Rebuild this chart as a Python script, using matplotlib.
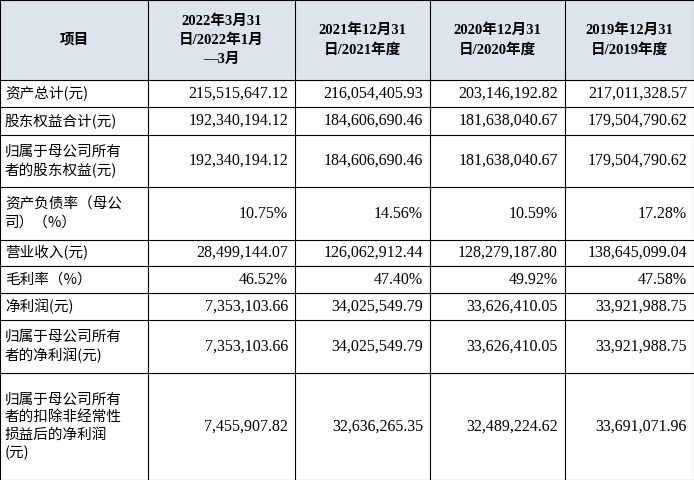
import matplotlib
matplotlib.use("Agg")
import matplotlib.pyplot as plt

headers = ["项目", "2022年3月31\n日/2022年1月\n—3月", "2021年12月31\n日/2021年度",
           "2020年12月31\n日/2020年度", "2019年12月31\n日/2019年度"]
row_labels = ["资产总计(元)", "股东权益合计(元)", "归属于母公司所有\n者的股东权益(元)",
              "资产负债率（母公\n司）（%）", "营业收入(元)", "毛利率（%）", "净利润(元)",
              "归属于母公司所有\n者的净利润(元)",
              "归属于母公司所有\n者的扣除非经常性\n损益后的净利润\n(元)"]
col_2022q1 = ["215,515,647.12", "192,340,194.12", "192,340,194.12", "10.75%", "28,499,144.07",
              "46.52%", "7,353,103.66", "7,353,103.66", "7,455,907.82"]
col_2021 = ["216,054,405.93", "184,606,690.46", "184,606,690.46", "14.56%", "126,062,912.44",
            "47.40%", "34,025,549.79", "34,025,549.79", "32,636,265.35"]
col_2020 = ["203,146,192.82", "181,638,040.67", "181,638,040.67", "10.59%", "128,279,187.80",
            "49.92%", "33,626,410.05", "33,626,410.05", "32,489,224.62"]
col_2019 = ["217,011,328.57", "179,504,790.62", "179,504,790.62", "17.28%", "138,645,099.04",
            "47.58%", "33,921,988.75", "33,921,988.75", "33,691,071.96"]

cols_x = [0, 148, 295, 430, 565, 694]
rows_y = [0, 80, 107, 135, 187, 240, 266, 293, 320, 373, 480]
cjk = "Noto Sans CJK SC"
num = "Liberation Serif"

fig = plt.figure(figsize=(6.94, 4.8), dpi=100)
ax = fig.add_axes([0, 0, 1, 1])
ax.set_xlim(0, 694); ax.set_ylim(480, 0); ax.axis("off")

ax.add_patch(plt.Rectangle((0, 0), 694, rows_y[1], color="#dce4ee", zorder=0))
for x in cols_x:
    ax.plot([x, x], [0, 480], color="black", lw=0.8)
for y in rows_y:
    ax.plot([0, 694], [y, y], color="black", lw=0.8)

for i, h in enumerate(headers):
    cx = (cols_x[i] + cols_x[i+1]) / 2
    ax.text(cx, rows_y[1] / 2, h, ha="center", va="center", fontsize=10.5,
            fontweight="bold", family=[num, cjk], linespacing=1.55)

data_cols = [col_2022q1, col_2021, col_2020, col_2019]
for r, lab in enumerate(row_labels):
    cy = (rows_y[r+1] + rows_y[r+2]) / 2
    ax.text(5, cy, lab, ha="left", va="center", fontsize=10.5, family=[cjk],
            linespacing=1.35)
    for c, col in enumerate(data_cols):
        ax.text(cols_x[c+2] - 7, cy, col[r], ha="right", va="center", fontsize=11.5,
                family=[num])

fig.savefig("out.png", dpi=100)
